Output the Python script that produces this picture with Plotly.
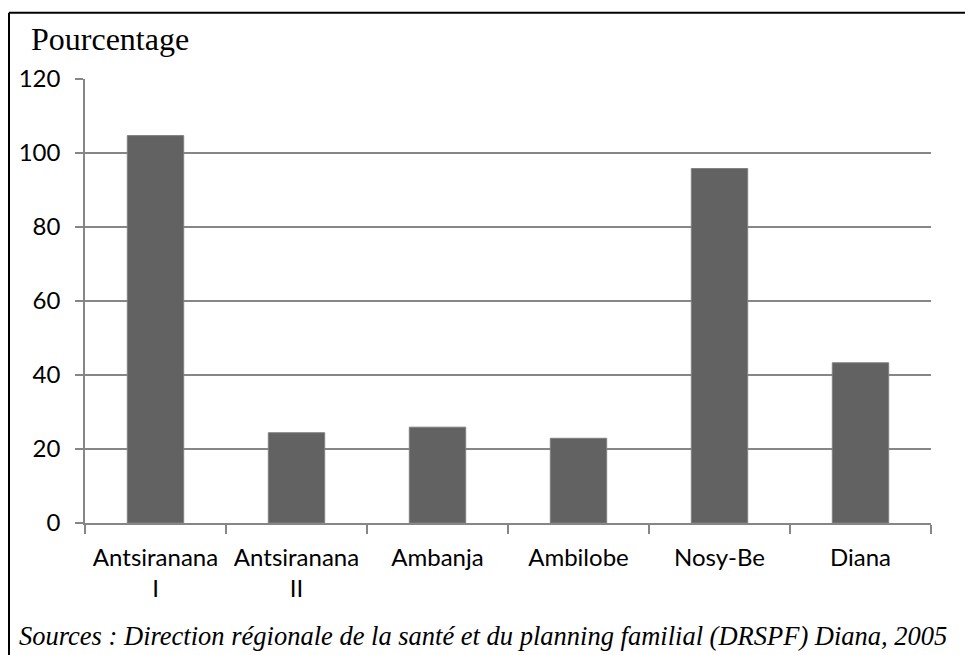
import plotly.graph_objects as go

# District-level percentages, Diana region
districts = ["Antsiranana<br>I", "Antsiranana<br>II", "Ambanja", "Ambilobe", "Nosy-Be", "Diana"]
pourcentage = [104.7, 24.4, 25.9, 22.9, 95.8, 43.3]

y_ticks = [0, 20, 40, 60, 80, 100, 120]

axis_grey = "#868686"
label_font = dict(family="Lato, Calibri, sans-serif", size=24, color="#000000")

fig = go.Figure(
    go.Bar(
        x=districts,
        y=pourcentage,
        marker=dict(color="#626262", line=dict(color="#808080", width=1)),
        hoverinfo="x+y",
    )
)

W, H = 965, 655
L, R, T, B = 85, 34, 79, 132
pw, ph = W - L - R, H - T - B


def px_to_paper(px, py):
    return (px - L) / pw, (H - B - py) / ph


fig.update_layout(
    width=W,
    height=H,
    margin=dict(l=L, r=R, t=T, b=B),
    paper_bgcolor="white",
    plot_bgcolor="white",
    bargap=0.6,
    showlegend=False,
    xaxis=dict(
        type="category",
        showline=True,
        linecolor=axis_grey,
        linewidth=1.5,
        ticks="outside",
        tickson="boundaries",
        ticklen=9,
        tickcolor=axis_grey,
        tickwidth=1.5,
        showgrid=False,
        tickfont=label_font,
        ticklabelstandoff=12,
        fixedrange=True,
    ),
    yaxis=dict(
        range=[0, 120],
        tickvals=y_ticks,
        showline=True,
        linecolor=axis_grey,
        linewidth=1.5,
        ticks="outside",
        ticklen=8,
        tickcolor=axis_grey,
        tickwidth=1.5,
        showgrid=True,
        gridcolor=axis_grey,
        gridwidth=1.5,
        zeroline=False,
        tickfont=label_font,
        ticklabelstandoff=10,
        fixedrange=True,
    ),
)

# Frame: top and left rules of the figure box
x0, y_top = px_to_paper(9, 12.7)
_, y_bot = px_to_paper(9, H + 5)
x_right, _ = px_to_paper(W + 5, 0)
fig.add_shape(type="line", xref="paper", yref="paper", x0=x0, x1=x_right, y0=y_top, y1=y_top,
              line=dict(color="black", width=2))
fig.add_shape(type="line", xref="paper", yref="paper", x0=x0, x1=x0, y0=y_top, y1=y_bot,
              line=dict(color="black", width=2))

# Axis title
tx, ty = px_to_paper(29, 51)
fig.add_annotation(
    text="Pourcentage", xref="paper", yref="paper", x=tx, y=ty,
    xanchor="left", yanchor="bottom", showarrow=False, yshift=-8,
    font=dict(family="Liberation Serif, Times New Roman, serif", size=32, color="black"),
)

# Source note
sx, sy = px_to_paper(17, 645)
fig.add_annotation(
    text="<i>Sources : Direction régionale de la santé et du planning familial (DRSPF) Diana, 2005</i>",
    xref="paper", yref="paper", x=sx, y=sy,
    xanchor="left", yanchor="bottom", showarrow=False, yshift=-8,
    font=dict(family="Liberation Serif, Times New Roman, serif", size=26.5, color="black"),
)

fig.write_html("out.html")
